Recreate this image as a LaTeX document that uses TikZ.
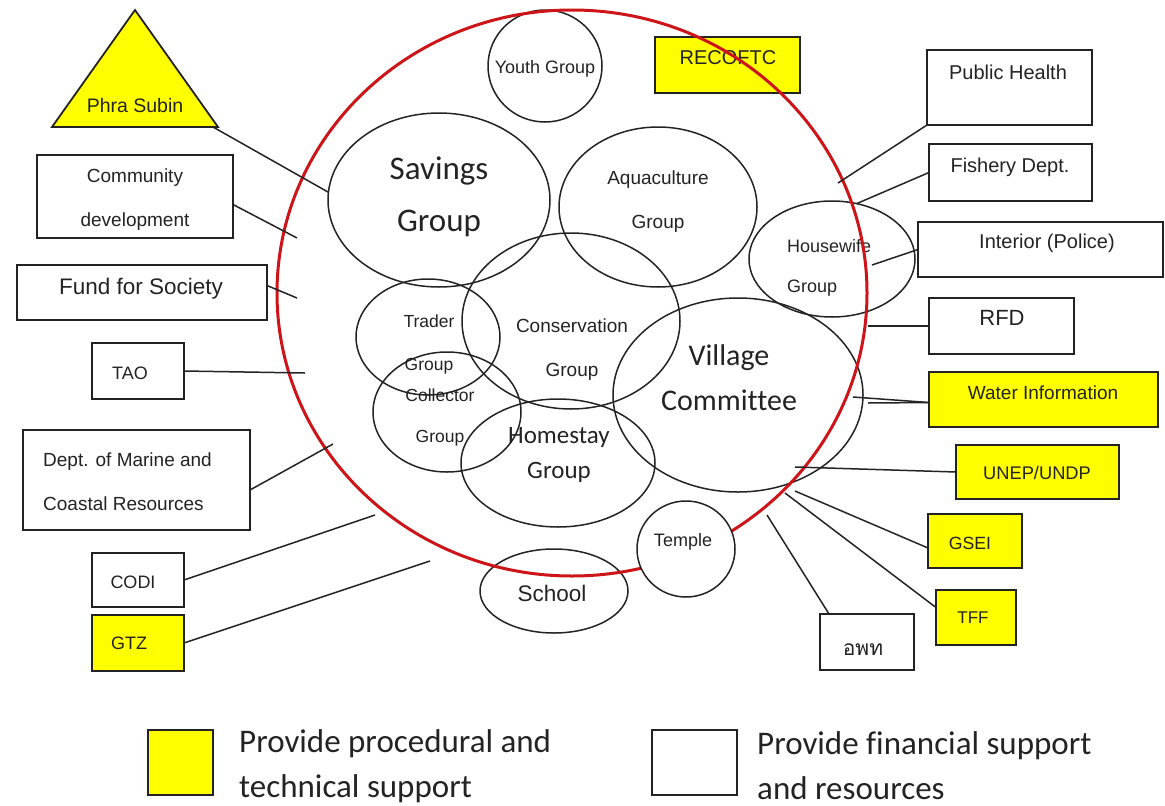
\documentclass[tikz,border=0pt]{standalone}
\usepackage{fontspec}
\setmainfont{Liberation Sans}
\newfontfamily\calib[Ligatures=NoCommon]{Carlito}
\newfontfamily\thaifont[Script=Thai]{Loma}
\usetikzlibrary{shapes.geometric}
\definecolor{redline}{RGB}{205,20,25}
\definecolor{ink}{RGB}{35,35,35}
\definecolor{yel}{RGB}{255,255,0}
\begin{document}
\begin{tikzpicture}[x=1pt,y=-1pt,
  box/.style={draw=ink, line width=1.8pt, fill=white, inner sep=0pt, outer sep=0pt, anchor=north west},
  ybox/.style={box, fill=yel},
  ell/.style={draw=ink, line width=1.5pt, ellipse, inner sep=0pt, outer sep=0pt},
  txt/.style={text=ink, inner sep=0pt, align=center, font=\fontsize{19}{44}\selectfont},
  big/.style={text=ink, inner sep=0pt, align=center, font=\calib\fontsize{33}{52}\selectfont},
  link/.style={draw=ink, line width=1.5pt},
]
\useasboundingbox (0,0) rectangle (1165,806);

% ---------- free ends of connectors ----------
\coordinate (phraR) at (213,127);
\coordinate (cComm) at (297,238);
\coordinate (cFund) at (297,298);
\coordinate (cTao) at (305,373);
\coordinate (cMarine) at (333,444);
\coordinate (cCodi) at (375,515);
\coordinate (cGtz) at (430,561);
\coordinate (cPh) at (838,183);
\coordinate (cHw) at (872,265);
\coordinate (cRfd) at (868,326);
\coordinate (cW1) at (853,397);
\coordinate (cW2) at (868,403);
\coordinate (cUnep) at (795,467);
\coordinate (cGsei) at (795,491);
\coordinate (cTff) at (785,493);
\coordinate (cDasta) at (767,515);

% ---------- left side ----------
\draw[draw=ink, line width=1.8pt, fill=yel, line join=miter] (135,10) -- (218,127) -- (52,127) -- cycle;
\node[txt, font=\fontsize{19.5}{22}\selectfont] (phraT) at (135,106) {Phra Subin};

\node[box, minimum width=196, minimum height=83] (comm) at (37,155) {};
\node[txt] (commT) at (135,200) {Community\\development};
\node[box, minimum width=250, minimum height=55] (fund) at (17,265) {};
\node[txt, font=\fontsize{22.5}{26}\selectfont] (fundT) at (141,289) {Fund for Society};
\node[box, minimum width=92, minimum height=56] (tao) at (92,343) {};
\node[txt, font=\fontsize{18}{22}\selectfont] (taoT) at (130,373) {TAO};
\node[box, minimum width=227, minimum height=100] (marine) at (23,430) {};
\node[txt, align=left, anchor=west] (marineT) at (43,482) {Dept. of Marine and\\Coastal Resources};
\node[box, minimum width=92, minimum height=54] (codi) at (92,553) {};
\node[txt, font=\fontsize{18}{22}\selectfont] (codiT) at (133,582) {CODI};
\node[ybox, minimum width=92, minimum height=56] (gtz) at (92,615) {};
\node[txt, font=\fontsize{18}{22}\selectfont] (gtzT) at (129,643) {GTZ};

% ---------- inner groups ----------
\node[ell, minimum width=114, minimum height=112] (youth) at (545,66) {};
\node[txt, font=\fontsize{18}{22}\selectfont] (youthT) at (545,69) {Youth Group};
\node[ell, minimum width=222, minimum height=174] (savings) at (439,200) {};
\node[big] (savingsT) at (439,197) {Savings\\Group};
\node[ell, minimum width=198, minimum height=160] (aqua) at (658,207) {};
\node[txt] (aquaT) at (658,202) {Aquaculture\\Group};
\node[ell, minimum width=218, minimum height=176] (cons) at (571,321) {};
\node[txt] (consT) at (572,350) {Conservation\\Group};
\node[ell, minimum width=144, minimum height=116] (trader) at (428,337) {};
\node[txt, font=\fontsize{17.5}{43}\selectfont] (traderT) at (429,344) {Trader\\Group};
\node[ell, minimum width=148, minimum height=120] (coll) at (447,412) {};
\node[txt, font=\fontsize{17.5}{41}\selectfont] (collT) at (440,417) {Collector\\Group};
\node[ell, minimum width=194, minimum height=128] (home) at (558,463) {};
\node[big, font=\calib\fontsize{25}{35}\selectfont] (homeT) at (559,455) {Homestay\\Group};
\node[ell, minimum width=250, minimum height=194] (vc) at (738,395) {};
\node[big, font=\calib\fontsize{30}{45}\selectfont] (vcT) at (729,378) {Village\\Committee};
\node[ell, minimum width=166, minimum height=116] (hw) at (832,259) {};
\node[txt, align=left, anchor=west, font=\fontsize{18}{40}\selectfont] (hwT) at (787,268) {Housewife\\Group};
\node[ell, minimum width=148, minimum height=84] (school) at (554,591) {};
\node[txt, font=\fontsize{22.5}{26}\selectfont] (schoolT) at (552,593) {School};

% ---------- RECOFTC (under the red boundary) ----------
\node[ybox, minimum width=145, minimum height=56] (recoftc) at (655,37) {};
\node[txt, font=\fontsize{20}{24}\selectfont] (recoftcT) at (728,58) {RECOFTC};

% ---------- red community boundary ----------
\node[ell, draw=redline, line width=3pt, minimum width=590, minimum height=566] (boundary) at (572,293) {};

% temple on top of the boundary
\node[ell, fill=white, minimum width=98, minimum height=96] (temple) at (686,549) {};
\node[txt, font=\fontsize{18}{22}\selectfont] (templeT) at (683,542) {Temple};

% ---------- right side ----------
\node[box, minimum width=165, minimum height=75] (ph) at (927,50) {};
\node[txt, font=\fontsize{20}{24}\selectfont] (phT) at (1008,72) {Public Health};
\node[box, minimum width=163, minimum height=57] (fish) at (929,144) {};
\node[txt, font=\fontsize{20}{24}\selectfont] (fishT) at (1010,167) {Fishery Dept.};
\node[box, minimum width=245, minimum height=55] (interior) at (918,222) {};
\node[txt, font=\fontsize{20}{24}\selectfont] (interiorT) at (1047,243) {Interior (Police)};
\node[box, minimum width=145, minimum height=56] (rfd) at (929,298) {};
\node[txt, font=\fontsize{22}{26}\selectfont] (rfdT) at (1002,318) {RFD};
\node[ybox, minimum width=229, minimum height=55] (water) at (929,372) {};
\node[txt, font=\fontsize{19}{24}\selectfont] (waterT) at (1043,393) {Water Information};
\node[ybox, minimum width=163, minimum height=54] (unep) at (956,445) {};
\node[txt, font=\fontsize{18.3}{22}\selectfont] (unepT) at (1037,473) {UNEP/UNDP};
\node[ybox, minimum width=94, minimum height=54] (gsei) at (928,514) {};
\node[txt, font=\fontsize{17.7}{22}\selectfont] (gseiT) at (970,543) {GSEI};
\node[ybox, minimum width=80, minimum height=55] (tff) at (936,590) {};
\node[txt, font=\fontsize{17}{22}\selectfont] (tffT) at (973,618) {TFF};
\node[box, minimum width=94, minimum height=56] (dasta) at (820,614) {};
\node[txt, font=\thaifont\fontsize{21}{24}\selectfont] (dastaT) at (863,650) {อพท};

% ---------- connectors ----------
\draw[link] (phraR) -- (savings.176);
\draw[link] ([yshift=-8pt]comm.east) -- (cComm);
\draw[link] ([yshift=7pt]fund.east) -- (cFund);
\draw[link] (tao.east) -- (cTao);
\draw[link] ([yshift=-10pt]marine.east) -- (cMarine);
\draw[link] (codi.east) -- (cCodi);
\draw[link] (gtz.east) -- (cGtz);
\draw[link] (ph.south west) -- (cPh);
\draw[link] (fish.west) -- (hw.66);
\draw[link] (cHw) -- (interior.west);
\draw[link] (rfd.west) -- (cRfd);
\draw[link] (cW1) -- ([yshift=-3pt]water.west);
\draw[link] (cW2) -- ([yshift=-3pt]water.west);
\draw[link] (cUnep) -- (unep.west);
\draw[link] (cGsei) -- ([yshift=-7pt]gsei.west);
\draw[link] (cTff) -- ([yshift=10pt]tff.west);
\draw[link] (cDasta) -- ([xshift=-38pt]dasta.north);

% ---------- legend ----------
\node[ybox, minimum width=65, minimum height=65] (legY) at (148,730) {};
\node[big, align=left, anchor=west, font=\calib\fontsize{33}{45}\selectfont] (legYT) at (239,766) {Provide procedural and\\technical support};
\node[box, minimum width=85, minimum height=65] (legW) at (652,730) {};
\node[big, align=left, anchor=west, font=\calib\fontsize{33}{45}\selectfont] (legWT) at (757,766) {Provide financial support\\and resources};
\end{tikzpicture}
\end{document}
